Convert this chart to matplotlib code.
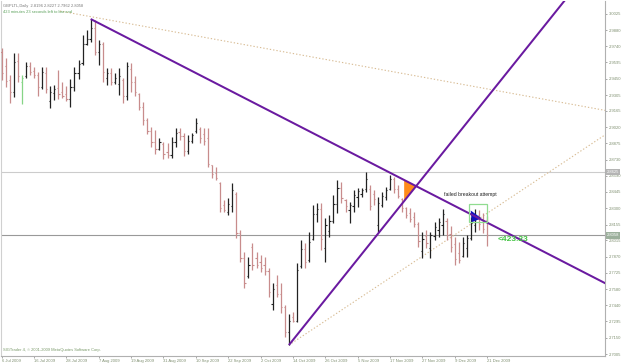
import matplotlib
matplotlib.use('Agg')
import matplotlib.pyplot as plt
import matplotlib.transforms as mtransforms
from matplotlib.patches import Polygon, Rectangle

plt.rcParams['font.family'] = ['Liberation Sans', 'DejaVu Sans']

# ---------------- data ----------------
opens = [2.9690, 2.9560, 2.9440, 2.9330, 2.9610, 2.9420, 2.9470, 2.9560, 2.9520, 2.9480,
         2.9380, 2.9500, 2.9250, 2.9320, 2.9370, 2.9330, 2.9310, 2.9270, 2.9380, 2.9500,
         2.9590, 2.9760, 2.9800, 2.9900, 2.9690, 2.9760, 2.9460, 2.9500, 2.9420, 2.9400,
         2.9440, 2.9300, 2.9540, 2.9420, 2.9310, 2.9200, 2.9080, 2.8990, 2.8890, 2.8830,
         2.8870, 2.8800, 2.8770, 2.8890, 2.8980, 2.8940, 2.8810, 2.8900, 2.8990, 2.9000,
         2.8960, 2.8920, 2.8680, 2.8610, 2.8520, 2.8330, 2.8270, 2.8320, 2.8430, 2.8080,
         2.7860, 2.7700, 2.7960, 2.7860, 2.7820, 2.7800, 2.7740, 2.7450, 2.7620, 2.7540,
         2.7420, 2.7200, 2.7330, 2.7300, 2.7790, 2.7940, 2.7840, 2.8030, 2.8250, 2.8290,
         2.7950, 2.8100, 2.8190, 2.8340, 2.8480, 2.8370, 2.8280, 2.8320, 2.8400, 2.8430,
         2.8470, 2.8470, 2.8430, 2.8150, 2.8330, 2.8400, 2.8470, 2.8560, 2.8470, 2.8380,
         2.8300, 2.8260, 2.8220, 2.8160, 2.7920, 2.8050, 2.7950, 2.8050, 2.8110, 2.8150,
         2.8190, 2.8070, 2.7980, 2.7900, 2.7880, 2.7950, 2.8040, 2.8150, 2.8240, 2.8200,
         2.8196]
highs = [2.9723, 2.9634, 2.9483, 2.9678, 2.9678, 2.9483, 2.9598, 2.9598, 2.9554, 2.9510,
         2.9554, 2.9554, 2.9385, 2.9394, 2.9527, 2.9421, 2.9385, 2.9448, 2.9554, 2.9616,
         2.9838, 2.9883, 2.9980, 2.9971, 2.9794, 2.9776, 2.9545, 2.9545, 2.9501, 2.9545,
         2.9456, 2.9598, 2.9590, 2.9474, 2.9323, 2.9243, 2.9101, 2.9021, 2.8995, 2.8924,
         2.8888, 2.8879, 2.8932, 2.9012, 2.9012, 2.8968, 2.8950, 2.8968, 2.9101, 2.9021,
         2.9012, 2.9012, 2.8684, 2.8666, 2.8533, 2.8373, 2.8391, 2.8524, 2.8444, 2.8107,
         2.7911, 2.7867, 2.7991, 2.7911, 2.7885, 2.7867, 2.7769, 2.7636, 2.7707, 2.7636,
         2.7441, 2.7361, 2.7378, 2.7814, 2.8018, 2.7991, 2.8089, 2.8329, 2.8346, 2.8346,
         2.8213, 2.8240, 2.8417, 2.8551, 2.8533, 2.8382, 2.8355, 2.8462, 2.8480, 2.8480,
         2.8622, 2.8506, 2.8462, 2.8400, 2.8444, 2.8488, 2.8595, 2.8577, 2.8506, 2.8391,
         2.8311, 2.8302, 2.8266, 2.8178, 2.8089, 2.8107, 2.8089, 2.8178, 2.8213, 2.8293,
         2.8213, 2.8142, 2.8044, 2.8000, 2.8044, 2.8062, 2.8222, 2.8293, 2.8284, 2.8258,
         2.8227]
lows = [2.9439, 2.9376, 2.9234, 2.9288, 2.9421, 2.9226, 2.9456, 2.9483, 2.9456, 2.9297,
        2.9359, 2.9323, 2.9190, 2.9261, 2.9270, 2.9279, 2.9252, 2.9199, 2.9341, 2.9448,
        2.9572, 2.9749, 2.9776, 2.9661, 2.9572, 2.9421, 2.9394, 2.9394, 2.9403, 2.9305,
        2.9234, 2.9261, 2.9332, 2.9297, 2.9172, 2.9039, 2.8959, 2.8844, 2.8782, 2.8817,
        2.8737, 2.8746, 2.8746, 2.8844, 2.8906, 2.8764, 2.8782, 2.8879, 2.8968, 2.8879,
        2.8861, 2.8666, 2.8568, 2.8551, 2.8266, 2.8266, 2.8240, 2.8266, 2.8036, 2.7822,
        2.7592, 2.7680, 2.7751, 2.7769, 2.7734, 2.7707, 2.7512, 2.7396, 2.7512, 2.7370,
        2.7156, 2.7085, 2.7290, 2.7290, 2.7769, 2.7769, 2.7822, 2.8018, 2.8178, 2.7929,
        2.7822, 2.8044, 2.8169, 2.8258, 2.8346, 2.8266, 2.8169, 2.8266, 2.8311, 2.8400,
        2.8444, 2.8284, 2.8329, 2.8089, 2.8311, 2.8373, 2.8462, 2.8435, 2.8391, 2.8266,
        2.8213, 2.8178, 2.8133, 2.7956, 2.7858, 2.7947, 2.7858, 2.8018, 2.8044, 2.8062,
        2.8018, 2.7911, 2.7796, 2.7814, 2.7867, 2.7867, 2.8018, 2.8089, 2.8107, 2.8080,
        2.7962]
closes = [2.9500, 2.9430, 2.9330, 2.9600, 2.9470, 2.9460, 2.9560, 2.9510, 2.9480, 2.9380,
          2.9510, 2.9360, 2.9330, 2.9360, 2.9310, 2.9300, 2.9270, 2.9380, 2.9500, 2.9580,
          2.9760, 2.9800, 2.9900, 2.9690, 2.9760, 2.9510, 2.9500, 2.9420, 2.9460, 2.9470,
          2.9300, 2.9560, 2.9420, 2.9330, 2.9200, 2.9080, 2.8990, 2.8890, 2.8830, 2.8890,
          2.8780, 2.8770, 2.8890, 2.8970, 2.8940, 2.8810, 2.8900, 2.8950, 2.9060, 2.8920,
          2.8900, 2.8690, 2.8600, 2.8570, 2.8300, 2.8280, 2.8340, 2.8460, 2.8080, 2.7860,
          2.7640, 2.7800, 2.7800, 2.7800, 2.7770, 2.7740, 2.7560, 2.7580, 2.7540, 2.7420,
          2.7200, 2.7300, 2.7300, 2.7750, 2.7940, 2.7820, 2.8000, 2.8250, 2.8290, 2.8030,
          2.8150, 2.8190, 2.8340, 2.8480, 2.8390, 2.8320, 2.8330, 2.8420, 2.8450, 2.8460,
          2.8560, 2.8320, 2.8380, 2.8350, 2.8410, 2.8460, 2.8560, 2.8470, 2.8410, 2.8300,
          2.8240, 2.8200, 2.8160, 2.8010, 2.8030, 2.7990, 2.8060, 2.8130, 2.8180, 2.8250,
          2.8060, 2.7960, 2.7850, 2.7840, 2.7990, 2.8040, 2.8170, 2.8240, 2.8160, 2.8120,
          2.8058]
highlight_bars = [5]

date_tick_bars = [0, 8, 16, 24, 32, 40, 48, 56, 64, 72, 80, 88, 96, 104, 112, 120]
date_labels = ["6 Jul 2009", "16 Jul 2009", "28 Jul 2009", "7 Aug 2009", "19 Aug 2009",
               "31 Aug 2009", "10 Sep 2009", "22 Sep 2009", "2 Oct 2009", "14 Oct 2009",
               "26 Oct 2009", "5 Nov 2009", "17 Nov 2009", "27 Nov 2009", "9 Dec 2009",
               "21 Dec 2009"]
price_ticks = [3.0025, 2.9880, 2.9740, 2.9595, 2.9450, 2.9305, 2.9165, 2.9020, 2.8875,
               2.8730, 2.8590, 2.8445, 2.8300, 2.8155, 2.8015, 2.7870, 2.7725, 2.7580,
               2.7440, 2.7295, 2.7150, 2.7005]

hline_level = 2.8625
last_close = 2.8058

down_trend = [(22, 2.9980), (149.1, 2.7636)]
up_trend = [(71, 2.7085), (109.6, 2.8817)]
dotted_top = [(14.4, 3.0051), (148.7, 2.9172)]
dotted_low = [(71, 2.7085), (149.1, 2.8950)]
orange_x = 99.5
blue_tri = [(115.95, 2.8280), (116.2, 2.8175), (118.6, 2.8211)]
green_box = (115.6, 2.8178, 120.0, 2.8337)

# ---------------- figure ----------------
W, H = 625, 364
fig = plt.figure(figsize=(W / 100, H / 100), dpi=100)
fig.patch.set_facecolor('white')
ax = fig.add_axes([1 / W, 8 / H, 604 / W, 355 / H])
ax.set_xlim(-0.17, 149.15)
ax.set_ylim(2.6988, 3.0140)

up_col = '#222222'
dn_col = '#c88c8c'
hl_col = '#86d486'

# horizontal lines
ax.axhline(hline_level, color='#cccccc', lw=0.8, zorder=1)
ax.axhline(last_close, color='#999999', lw=0.8, zorder=1)

# OHLC bars
for i in range(len(opens)):
    if i in highlight_bars:
        c = hl_col
    elif closes[i] >= opens[i]:
        c = up_col
    else:
        c = dn_col
    ax.vlines(i, lows[i], highs[i], color=c, lw=0.9, zorder=3)
    ax.hlines(opens[i], i - 0.3, i, color=c, lw=0.8, zorder=3)
    ax.hlines(closes[i], i, i + 0.3, color=c, lw=0.8, zorder=3)


def line_y(seg, x):
    (x1, y1), (x2, y2) = seg
    return y1 + (y2 - y1) * (x - x1) / (x2 - x1)


def ray(seg, **kw):
    x0 = seg[0][0]
    x_end = 175
    ax.plot([x0, x_end], [seg[0][1], line_y(seg, x_end)], **kw)


ray(dotted_top, color='#d8bc94', lw=0.8, ls=(0, (1.2, 1.8)), zorder=2)
ray(dotted_low, color='#d8bc94', lw=0.8, ls=(0, (1.2, 1.8)), zorder=2)
ray(down_trend, color='#6a1aa0', lw=1.45, zorder=4, solid_capstyle='butt')
ray(up_trend, color='#6a1aa0', lw=1.45, zorder=4, solid_capstyle='butt')

# orange triangle between the two trendlines
sd = (down_trend[1][1] - down_trend[0][1]) / (down_trend[1][0] - down_trend[0][0])
su = (up_trend[1][1] - up_trend[0][1]) / (up_trend[1][0] - up_trend[0][0])
xi = (up_trend[0][1] - down_trend[0][1] + sd * down_trend[0][0] - su * up_trend[0][0]) / (sd - su)
yi = line_y(down_trend, xi)
ax.add_patch(Polygon([(orange_x, line_y(down_trend, orange_x)),
                      (orange_x, line_y(up_trend, orange_x)), (xi, yi)],
                     closed=True, facecolor='#ff8c1a', edgecolor='none', zorder=3.5))
ax.add_patch(Polygon(blue_tri, closed=True, facecolor='#1010c0', edgecolor='none', zorder=3.5))
gx0, gy0, gx1, gy1 = green_box
ax.add_patch(Rectangle((gx0, gy0), gx1 - gx0, gy1 - gy0, fill=False,
                       edgecolor='#90dc90', lw=0.9, zorder=5))

ax.text(109.3, 2.8426, "failed breakout attempt", fontsize=3.7, color='#222222',
        ha='left', va='center', zorder=6)
ax.text(122.7, 2.8018, "<423.23", fontsize=6, color='#44c444', fontweight='bold',
        ha='left', va='center', zorder=6)

# header / footer
ax.text(0.003, 0.992, "GBPLTL,Daily  2.8196 2.8227 2.7962 2.8058", transform=ax.transAxes,
        fontsize=2.9, color='#777777', ha='left', va='top')
ax.text(0.003, 0.974, "423 minutes 23 seconds left to bar end", transform=ax.transAxes,
        fontsize=2.9, color='#5aa05a', ha='left', va='top')
ax.text(0.003, 0.012, "SIGTrader 4, \u00a9 2001-2009 MetaQuotes Software Corp.", transform=ax.transAxes,
        fontsize=2.9, color='#7a9a6a', ha='left', va='bottom')

# axes styling
lab_col = '#7f8f70'
ax.spines['top'].set_visible(False)
ax.spines['left'].set_color('#d0d0d0')
ax.spines['right'].set_color('#b0b0b0')
ax.spines['bottom'].set_color('#b0b0b0')
for s in ['left', 'right', 'bottom']:
    ax.spines[s].set_linewidth(0.8)

ax.yaxis.tick_right()
ax.set_yticks(price_ticks)
ax.set_yticklabels([f"{v:.4f}" for v in price_ticks])
ax.tick_params(axis='y', length=1.5, width=0.6, color='#999999', pad=1.5,
               labelsize=3.0, labelcolor=lab_col)
ax.set_xticks(date_tick_bars)
ax.set_xticklabels(date_labels, ha='left')
ax.tick_params(axis='x', length=1.5, width=0.6, color='#999999', pad=0.8,
               labelsize=3.0, labelcolor=lab_col)

# price boxes on the right axis
tr = mtransforms.blended_transform_factory(ax.transAxes, ax.transData)
ax.text(1.003, hline_level, f"{hline_level:.4f}", transform=tr, fontsize=3.0, color='white',
        ha='left', va='center', zorder=10, clip_on=False,
        bbox=dict(boxstyle='square,pad=0.25', facecolor='#b4b4b4', edgecolor='none'))
ax.text(1.003, last_close, f"{last_close:.4f}", transform=tr, fontsize=3.0, color='white',
        ha='left', va='center', zorder=10, clip_on=False,
        bbox=dict(boxstyle='square,pad=0.25', facecolor='#9cb09c', edgecolor='none'))

fig.savefig('out.png', dpi=100, facecolor='white')
